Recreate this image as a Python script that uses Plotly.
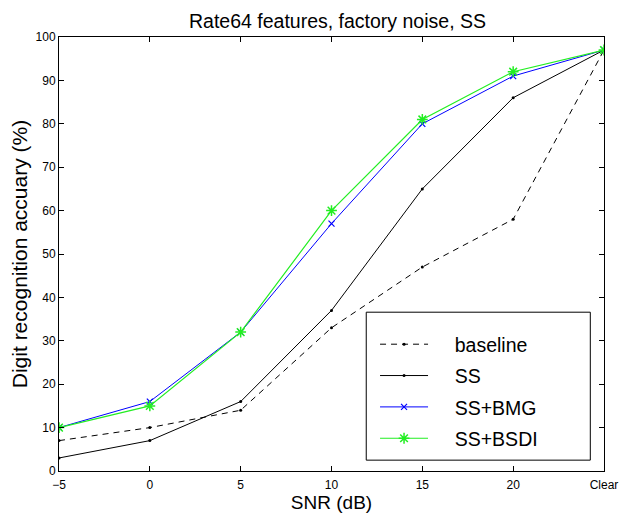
import plotly.graph_objects as go

categories = ["\u22125", "0", "5", "10", "15", "20", "Clear"]
baseline = [7, 10, 14, 33, 47, 58, 97]
ss = [3, 7, 16, 37, 65, 86, 97]
ss_bmg = [10, 16, 32, 57, 80, 91, 97]
ss_bsdi = [10, 15, 32, 60, 81, 92, 97]
y_ticks = list(range(0, 101, 10))
series_names = ["baseline", "SS", "SS+BMG", "SS+BSDI"]

xpos = list(range(len(categories)))
FONT = "Liberation Sans, Arial, sans-serif"
PAD = "\u00a0" * 4  # gap between legend sample and label

# plot area in pixels
L, R, T, B = 59, 616, 37, 477
W, H = 630, 518
PW, PH = R - L, B - T

fig = go.Figure()
fig.add_trace(go.Scatter(x=xpos, y=baseline, name=PAD + series_names[0], mode="lines+markers",
                         line=dict(color="black", width=1, dash="6px,5px"),
                         marker=dict(symbol="circle", size=3, color="black"), legendgroup="a"))
fig.add_trace(go.Scatter(x=xpos, y=ss, name=PAD + series_names[1], mode="lines+markers",
                         line=dict(color="black", width=1),
                         marker=dict(symbol="circle", size=3, color="black"), legendgroup="b"))
fig.add_trace(go.Scatter(x=xpos, y=ss_bmg, name=PAD + series_names[2], mode="lines+markers",
                         line=dict(color="#0000ff", width=1),
                         marker=dict(symbol="x-thin", size=6, color="#0000ff",
                                     line=dict(color="#0000ff", width=1.2)), legendgroup="c"))
fig.add_trace(go.Scatter(x=xpos, y=ss_bsdi, name=PAD + series_names[3], mode="lines+markers",
                         line=dict(color="#22ee22", width=1.2),
                         marker=dict(symbol="asterisk", size=9, color="#22ee22",
                                     line=dict(color="#22ee22", width=1.5)), legendgroup="d"))

fig.update_layout(
    width=W, height=H,
    margin=dict(l=L, r=W - R, t=T, b=H - B),
    paper_bgcolor="white", plot_bgcolor="white",
    font=dict(family=FONT, color="black"),
    title=dict(text="Rate64 features, factory noise, SS", x=(L + R) / 2 / W, xanchor="center",
               y=1 - 21 / H, yanchor="middle", font=dict(size=19.5)),
    xaxis=dict(range=[0, 6], tickmode="array", tickvals=xpos, ticktext=categories,
               ticks="inside", ticklen=5, tickcolor="black", mirror="ticks",
               showline=True, linecolor="black", linewidth=1, showgrid=False, zeroline=False,
               tickfont=dict(size=12), ticklabeloverflow="allow", ticklabelstandoff=3,
               title=dict(text="SNR (dB)", font=dict(size=19), standoff=0)),
    yaxis=dict(range=[0, 100], tickmode="array", tickvals=y_ticks,
               ticks="inside", ticklen=5, tickcolor="black", mirror="ticks",
               showline=True, linecolor="black", linewidth=1, showgrid=False, zeroline=False,
               tickfont=dict(size=12),
               title=dict(text="Digit recognition accuary (%)", font=dict(size=21), standoff=2)),
    legend=dict(x=(382 - L) / PW, y=1 - (329 - T) / PH, xanchor="left", yanchor="top",
                bgcolor="rgba(0,0,0,0)", borderwidth=0, font=dict(size=19.5),
                tracegroupgap=3, itemwidth=48),
    shapes=[dict(type="rect", xref="paper", yref="paper",
                 x0=(373 - L) / PW, x1=(602 - L) / PW,
                 y0=1 - (466 - T) / PH, y1=1 - (316 - T) / PH,
                 line=dict(color="black", width=1), fillcolor="white", layer="below")],
)

fig.write_html("out.html")
